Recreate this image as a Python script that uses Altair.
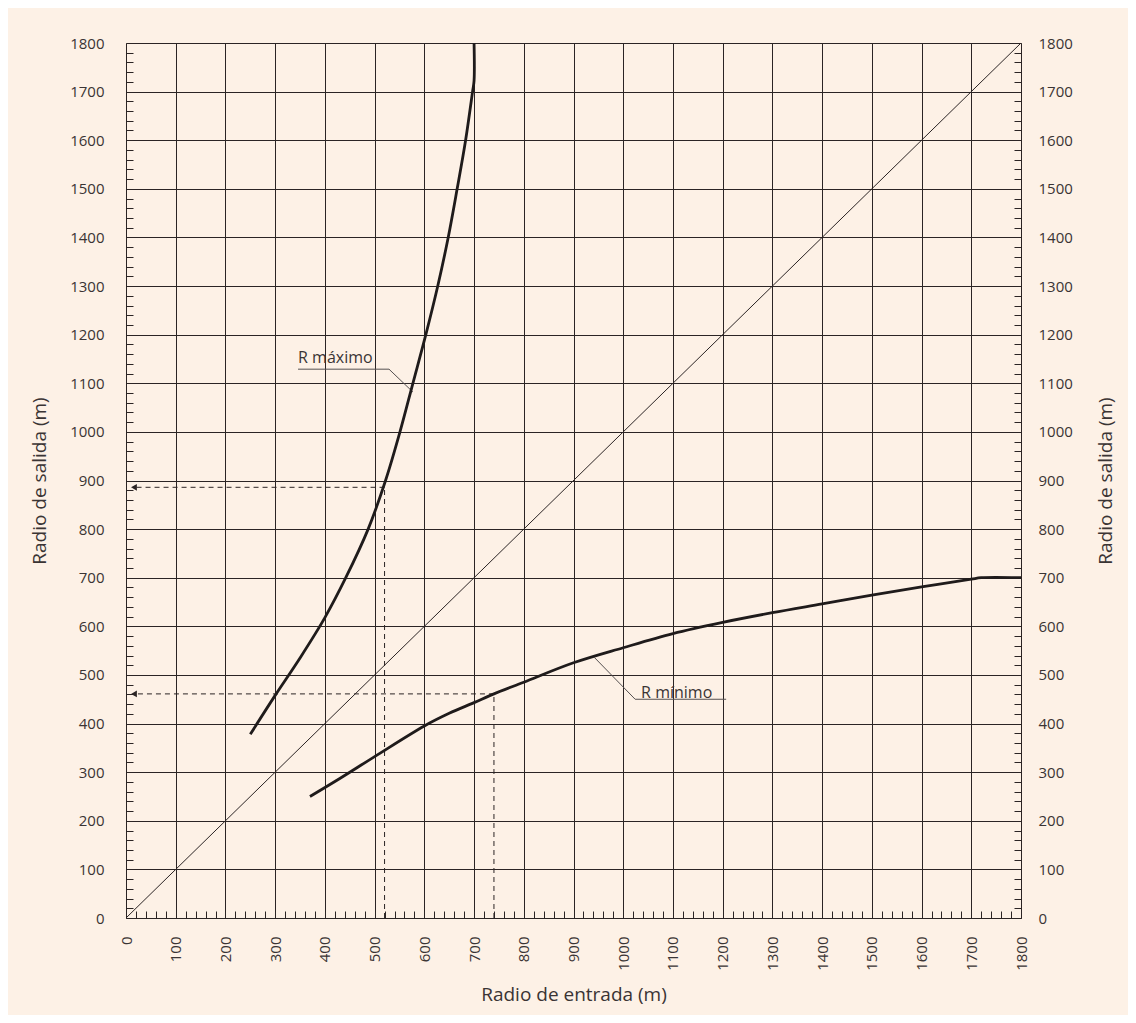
import altair as alt
import pandas as pd

# ---- data ----
rmax_x = [250, 300, 350, 400, 442, 487, 522, 551, 577, 603, 627, 648, 666, 683, 697, 700, 700]
rmax_y = [378, 458, 535, 618, 700, 800, 900, 1000, 1100, 1200, 1300, 1400, 1500, 1600, 1700, 1722, 1800]

rmin_x = [370, 430, 500, 600, 650, 700, 740, 800, 900, 1000, 1100, 1200, 1300, 1400, 1500, 1600, 1700, 1720, 1800]
rmin_y = [250, 287, 332, 395, 421, 443, 461, 485, 525, 556, 585, 608, 628, 646, 664, 681, 697, 700, 700]

diag_x = [0, 1800]
diag_y = [0, 1800]

# dashed reading guides (entry radius -> exit radius)
guide_x = [520, 740]
guide_y = [886, 461]
arrow_x = 16

# curve labels and their leader lines
label_text = ["R máximo", "R mínimo"]
label_x = [346, 1036]
label_y = [1152, 463]
under_x1 = [346, 1024]
under_x2 = [529, 1207]
under_y = [1129, 450]
knee_x = [529, 1024]
leader_end_x = [577, 942]
leader_end_y = [1082, 536]

ticks_major = list(range(0, 1801, 100))
ticks_minor = [v for v in range(0, 1801, 20) if v % 100 != 0]

# ---- styling ----
BG = "#fdf1e6"
INK = "#2b2424"
TXT = "#3a3434"
FONT = "Open Sans"

sc = alt.Scale(domain=[0, 1800], nice=False, zero=True)

x_main = alt.Axis(orient="bottom", values=ticks_major, format="d", labelAngle=270, labelPadding=18,
                  ticks=False, grid=True, gridColor=INK, gridOpacity=1, gridWidth=1,
                  domainColor=INK, domainWidth=1, labelFontSize=15, labelColor=TXT, labelFont=FONT,
                  title="Radio de entrada (m)", titleFontSize=19, titleFontWeight="normal",
                  titleColor=TXT, titleFont=FONT, titlePadding=15)
x_minor = alt.Axis(orient="bottom", values=ticks_minor, labels=False, grid=False, domain=False,
                   ticks=True, tickSize={"expr": "-7"}, tickColor=INK, tickWidth=1, title=None)
y_main = alt.Axis(orient="left", values=ticks_major, format="d", labelPadding=22, ticks=False, grid=True,
                  gridColor=INK, gridOpacity=1, gridWidth=1, domainColor=INK, domainWidth=1,
                  labelFontSize=15, labelColor=TXT, labelFont=FONT,
                  title="Radio de salida (m)", titleFontSize=19, titleFontWeight="normal",
                  titleColor=TXT, titleFont=FONT, titlePadding=20)
y_minor = alt.Axis(orient="left", values=ticks_minor, labels=False, grid=False, domain=False,
                   ticks=True, tickSize={"expr": "-7"}, tickColor=INK, tickWidth=1, title=None)
y_right = alt.Axis(orient="right", values=ticks_major, format="d", labelPadding=17, ticks=False, grid=False,
                   domainColor=INK, domainWidth=1, labelFontSize=15, labelColor=TXT, labelFont=FONT,
                   title="Radio de salida (m)", titleFontSize=19, titleFontWeight="normal",
                   titleColor=TXT, titleFont=FONT, titlePadding=24, titleAngle=270,
                   titleBaseline="top")
y_right_minor = alt.Axis(orient="right", values=ticks_minor, labels=False, grid=False, domain=False,
                         ticks=True, tickSize={"expr": "-7"}, tickColor=INK, tickWidth=1, title=None)

# ---- tables ----
df_diag = pd.DataFrame({"x": diag_x, "y": diag_y})
df_max = pd.DataFrame({"x": rmax_x, "y": rmax_y, "i": range(len(rmax_x))})
df_min = pd.DataFrame({"x": rmin_x, "y": rmin_y, "i": range(len(rmin_x))})

seg_rows = []
for gx, gy in zip(guide_x, guide_y):
    seg_rows.append({"x": gx, "y": 0, "x2": gx, "y2": gy})
    seg_rows.append({"x": gx, "y": gy, "x2": arrow_x, "y2": gy})
df_guides = pd.DataFrame(seg_rows)
df_arrows = pd.DataFrame({"x": [arrow_x] * len(guide_y), "y": guide_y})

lead_rows = []
for i in range(len(label_text)):
    lead_rows.append({"x": under_x1[i], "y": under_y[i], "x2": under_x2[i], "y2": under_y[i]})
    lead_rows.append({"x": knee_x[i], "y": under_y[i], "x2": leader_end_x[i], "y2": leader_end_y[i]})
df_leaders = pd.DataFrame(lead_rows)
df_labels = pd.DataFrame({"x": label_x, "y": label_y, "t": label_text})

# ---- layers ----
diag = alt.Chart(df_diag).mark_line(color=INK, strokeWidth=1).encode(
    x=alt.X("x:Q", scale=sc, axis=x_main),
    y=alt.Y("y:Q", scale=sc, axis=y_main),
)
rmax = alt.Chart(df_max).mark_line(color="#1f1b1b", strokeWidth=2.8, interpolate="catmull-rom").encode(
    x=alt.X("x:Q", scale=sc, axis=x_minor),
    y=alt.Y("y:Q", scale=sc, axis=y_minor),
    order="i:Q",
)
rmin = alt.Chart(df_min).mark_line(color="#1f1b1b", strokeWidth=2.8, interpolate="catmull-rom").encode(
    x=alt.X("x:Q", scale=sc, axis=None),
    y=alt.Y("y:Q", scale=sc, axis=y_right),
    order="i:Q",
)
guides = alt.Chart(df_guides).mark_rule(color=INK, strokeWidth=1, strokeDash=[5, 4]).encode(
    x=alt.X("x:Q", scale=sc, axis=None),
    y=alt.Y("y:Q", scale=sc, axis=y_right_minor),
    x2="x2:Q",
    y2="y2:Q",
)
arrows = alt.Chart(df_arrows).mark_point(shape="triangle-left", filled=True, color=INK, opacity=1, size=45).encode(
    x=alt.X("x:Q", scale=sc, axis=None),
    y=alt.Y("y:Q", scale=sc, axis=None),
)
leaders = alt.Chart(df_leaders).mark_rule(color="#555050", strokeWidth=1).encode(
    x=alt.X("x:Q", scale=sc, axis=None),
    y=alt.Y("y:Q", scale=sc, axis=None),
    x2="x2:Q",
    y2="y2:Q",
)
labels = alt.Chart(df_labels).mark_text(align="left", baseline="middle", fontSize=16, font=FONT, color=TXT).encode(
    x=alt.X("x:Q", scale=sc, axis=None),
    y=alt.Y("y:Q", scale=sc, axis=None),
    text="t:N",
)

chart = alt.layer(diag, guides, arrows, leaders, rmax, rmin, labels).resolve_axis(
    x="independent", y="independent"
).properties(
    width=895,
    height=875,
    padding={"left": 118, "top": 35, "right": 107, "bottom": 97},
    autosize=alt.AutoSizeParams(type="none"),
    background=BG,
).configure_view(stroke="transparent")

chart.save("out.html", embed_options={"renderer": "svg", "actions": False})
